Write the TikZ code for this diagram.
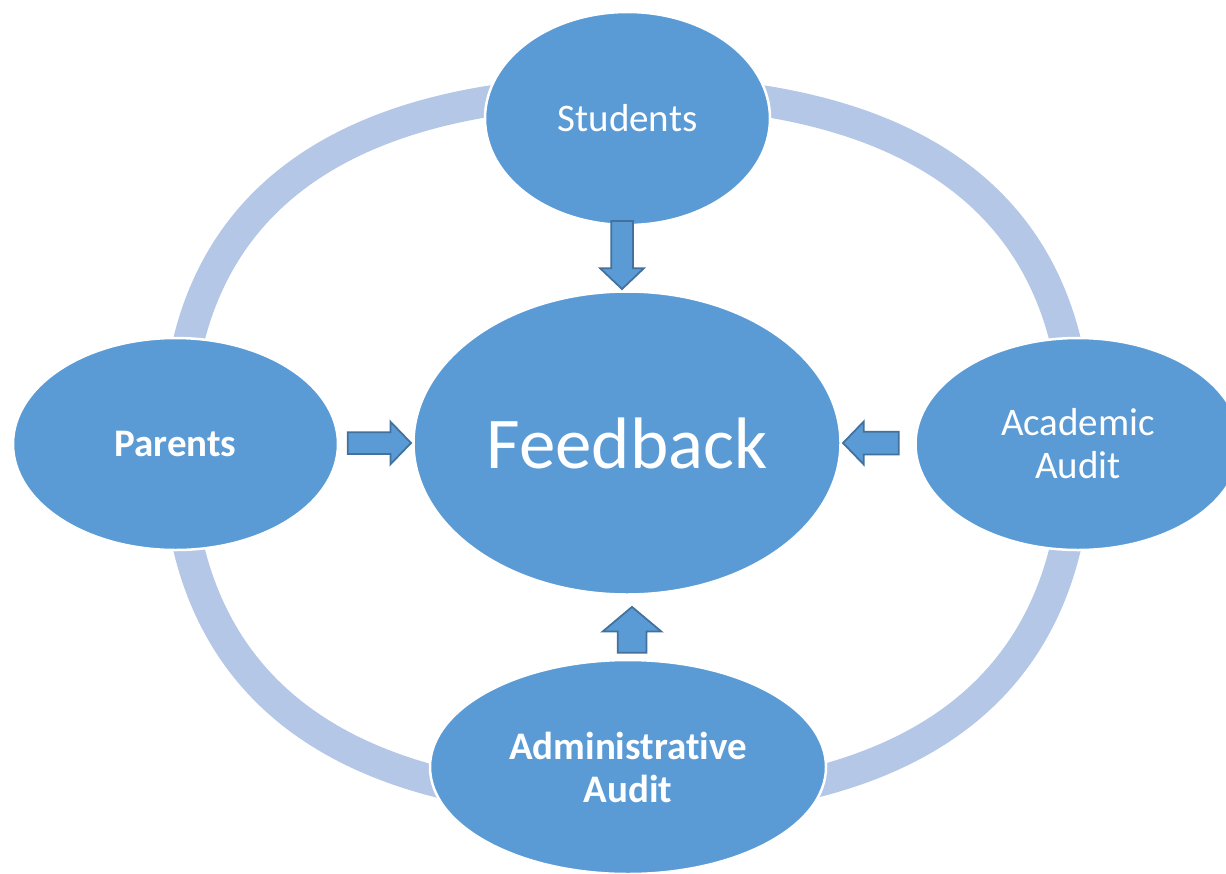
\documentclass[tikz,border=0pt]{standalone}
\usepackage{fontspec}
\setmainfont{Carlito}[Ligatures=NoCommon]
\usetikzlibrary{shapes,arrows,calc}
\definecolor{boxblue}{HTML}{5B9BD5}
\definecolor{ringblue}{HTML}{B4C7E7}
\definecolor{arrowedge}{HTML}{41719C}

\begin{document}
\begin{tikzpicture}[x=0.2mm,y=-0.2mm,
  bubble/.style={ellipse,fill=boxblue,draw=white,line width=0.5mm,inner sep=0pt,text=white,align=center,font=\fontsize{22.2}{24.5}\selectfont},
  boldbubble/.style={bubble,font=\fontsize{22.2}{24.5}\selectfont\bfseries},
  ring/.style={ringblue,line width=6.2mm},
  blockarrow/.style={single arrow,fill=boxblue,draw=arrowedge,line width=0.35mm,anchor=tip}]
\useasboundingbox (0,0) rectangle (1226,873);
\coordinate (rn) at (627,91);
\coordinate (re) at (1077,443);
\coordinate (rs) at (627,803);
\coordinate (rw) at (177,443);
\draw[ring] (rw) .. controls +(0,-232) and +(-297,0) .. (rn)
  .. controls +(297,0) and +(0,-232) .. (re)
  .. controls +(0,238) and +(297,0) .. (rs)
  .. controls +(-297,0) and +(0,238) .. (rw);
\node [bubble, minimum width=57mm, minimum height=42.6mm] (students) at (627.5,118.5) {Students};
\node [bubble, minimum width=85.4mm, minimum height=60.6mm, font=\fontsize{41.5}{45}\selectfont] (feedback) at (627,443) {Feedback};
\node [boldbubble, minimum width=65mm, minimum height=42.4mm] (parents) at (175.5,444) {Parents};
\node [bubble, minimum width=65mm, minimum height=42.4mm] (academic) at (1078,444) {Academic\\Audit};
\node [boldbubble, minimum width=79.2mm, minimum height=42.8mm] (admin) at (628,767) {Administrative\\Audit};
\node [blockarrow, rotate=-90, inner xsep=5.6mm, inner ysep=2mm, single arrow head extend=2.2mm, single arrow tip angle=93] (studarrow) at ([xshift=-1mm]feedback.north) {};
\node [blockarrow, inner xsep=5.1mm, inner ysep=2mm, single arrow head extend=2.1mm, single arrow tip angle=92] (parearrow) at (feedback.west) {};
\node [blockarrow, rotate=180, inner xsep=4.3mm, inner ysep=2.1mm, single arrow head extend=2mm, single arrow tip angle=92] (acadarrow) at (feedback.east) {};
\node [blockarrow, rotate=90, inner xsep=3.2mm, inner ysep=2.7mm, single arrow head extend=3mm, single arrow tip angle=100] (admarrow) at ([xshift=1mm,yshift=-2mm]feedback.south) {};
\end{tikzpicture}
\end{document}
